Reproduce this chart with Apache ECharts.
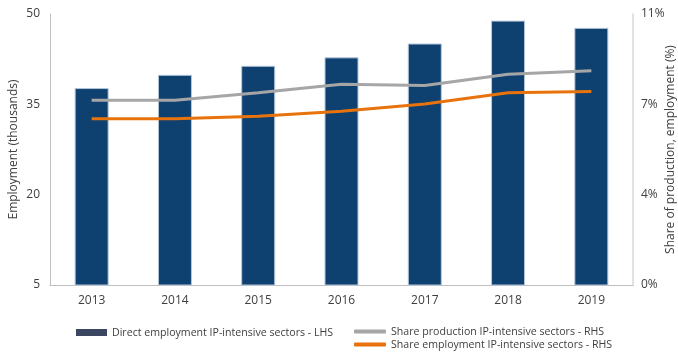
<!DOCTYPE html>
<html><head><meta charset="utf-8">
<script src="https://cdn.jsdelivr.net/npm/echarts@6/dist/echarts.min.js"></script>
<style>html,body{margin:0;padding:0;background:#fff}#c{width:678px;height:356px}</style>
</head><body><div id="c"></div>
<script>
var years = ['2013','2014','2015','2016','2017','2018','2019'];
var employment = [37.7, 39.9, 41.4, 42.8, 45.1, 48.9, 47.7];
var shareProduction = [7.5, 7.5, 7.8, 8.15, 8.1, 8.55, 8.7];
var shareEmployment = [6.75, 6.75, 6.85, 7.05, 7.35, 7.8, 7.85];
var leftTicks = [5, 20, 35, 50];
var rightTickLabels = ['0%', '4%', '7%', '11%'];

var txt = '#404040';
var font = 'Open Sans';
var legText = {color: txt, fontSize: 10.6, fontFamily: font};
var chart = echarts.init(document.getElementById('c'));
chart.setOption({
  animation: false,
  textStyle: {fontFamily: font},
  grid: {left: 50, right: 45, top: 14, bottom: 71, outerBoundsMode: 'none', containLabel: false},
  legend: [
    {left: 76, top: 327, itemWidth: 31, itemHeight: 7, icon: 'rect', padding: 0,
     textStyle: legText,
     data: [{name: 'Direct employment IP-intensive sectors - LHS', itemStyle: {color: '#3B4660', borderWidth: 0}}]},
    {left: 354, top: 326, itemWidth: 32, itemHeight: 4, icon: 'roundRect', padding: 0,
     textStyle: legText,
     data: ['Share production IP-intensive sectors - RHS']},
    {left: 354, top: 339, itemWidth: 32, itemHeight: 4, icon: 'roundRect', padding: 0,
     textStyle: legText,
     data: ['Share employment IP-intensive sectors - RHS']}
  ],
  xAxis: {
    type: 'category', data: years,
    axisLine: {lineStyle: {color: '#BFBFBF', width: 1}},
    axisTick: {show: false},
    axisLabel: {color: txt, fontSize: 12, margin: 10}
  },
  yAxis: [
    {type: 'value', min: leftTicks[0], max: leftTicks[leftTicks.length-1], interval: 15,
     name: 'Employment (thousands)', nameLocation: 'middle', nameGap: 30, nameRotate: 90, nameMoveOverlap: false,
     nameTextStyle: {color: txt, fontSize: 12},
     axisLine: {show: true, lineStyle: {color: '#BFBFBF'}},
     axisTick: {show: false}, splitLine: {show: false},
     axisLabel: {color: txt, fontSize: 12, margin: 10}},
    {type: 'value', min: 0, max: 11, interval: 11/3, position: 'right',
     name: 'Share of production, employment (%)', nameLocation: 'middle', nameGap: 32, nameRotate: 90, nameMoveOverlap: false,
     nameTextStyle: {color: txt, fontSize: 12},
     axisLine: {show: true, lineStyle: {color: '#D9D9D9', width: 1.5}},
     axisTick: {show: false}, splitLine: {show: false},
     axisLabel: {color: txt, fontSize: 12, margin: 8,
       formatter: function(v){ var i = Math.round(v/(11/3)); return rightTickLabels[i]; }}}
  ],
  series: [
    {name: 'Direct employment IP-intensive sectors - LHS', type: 'bar', data: employment, barWidth: 34,
     itemStyle: {color: '#0E4170', borderColor: '#B4C7DC', borderWidth: 1}},
    {name: 'Share production IP-intensive sectors - RHS', type: 'line', yAxisIndex: 1, data: shareProduction,
     symbol: 'none', lineStyle: {color: '#A6A6A6', width: 3}, itemStyle: {color: '#A6A6A6'}},
    {name: 'Share employment IP-intensive sectors - RHS', type: 'line', yAxisIndex: 1, data: shareEmployment,
     symbol: 'none', lineStyle: {color: '#E8730C', width: 3}, itemStyle: {color: '#E8730C'}}
  ]
});
</script></body></html>
